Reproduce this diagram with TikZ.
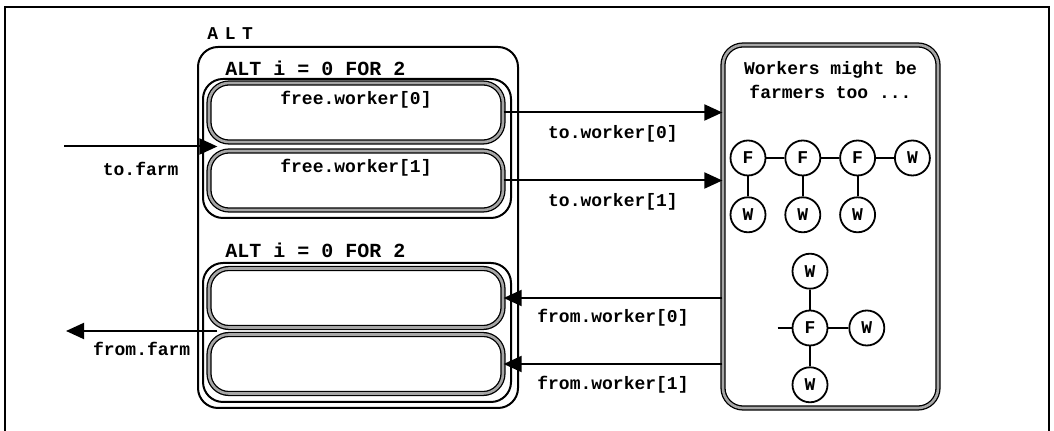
\documentclass[tikz,border=0pt]{standalone}
\usepackage{fontspec}
\setmonofont{Liberation Mono}
\usepackage{tikz}
\usetikzlibrary{positioning, arrows.meta, calc}

\tikzset{
  code/.style={font=\ttfamily\bfseries\fontsize{9}{11}\selectfont, inner sep=0pt},
  codebig/.style={font=\ttfamily\bfseries\fontsize{10}{12}\selectfont, inner sep=0pt},
  altbox/.style={draw, line width=1pt, rounded corners=10pt},
  chanbox/.style={draw, line width=0.65pt, double=gray!70, double distance=1.3pt,
    rounded corners=10pt},
  proc/.style={circle, draw, line width=0.9pt, minimum size=17.5pt, inner sep=0pt,
    font=\ttfamily\bfseries\fontsize{9}{11}\selectfont},
  chan/.style={line width=1pt, -{Triangle[length=9pt, width=8pt]}},
  link/.style={line width=0.9pt},
}

\begin{document}
\begin{tikzpicture}[x=0.5pt, y=-0.5pt]
    \useasboundingbox (0,0) rectangle (1054,431);
    % frame
    \draw [line width=0.8pt] (5,431) -- (5,7) -- (1049,7) -- (1049,431);%

    % outer ALT
    \node [altbox, minimum width=160pt, minimum height=180.5pt] (ALT) at (358,227.5) {};%
    \node [code, anchor=west] (ALTlbl) at (207,34) {A\kern3.3pt L\kern3.3pt T};%

    % first replicated ALT
    \node [codebig, anchor=west] (repA) at (225,68) {ALT i = 0 FOR 2};%
    \node [altbox, minimum width=154pt, minimum height=69.5pt] (grpA) at (357,148.5) {};%
    \node [chanbox, minimum width=147pt, minimum height=29.5pt] (w0) at (356,112.5) {};%
    \node [chanbox, minimum width=147pt, minimum height=29.5pt] (w1) at (356,180.5) {};%
    \node [code] (w0lbl) at ([yshift=-8.5pt]w0.north) {free.worker[0]};%
    \node [code] (w1lbl) at ([yshift=-8.5pt]w1.north) {free.worker[1]};%

    % second replicated ALT
    \node [codebig, anchor=west] (repB) at (225,250) {ALT i = 0 FOR 2};%
    \node [altbox, minimum width=154pt, minimum height=69.5pt] (grpB) at (357,332.5) {};%
    \node [chanbox, minimum width=147pt, minimum height=29.5pt] (w2) at (356,298) {};%
    \node [chanbox, minimum width=147pt, minimum height=29.5pt] (w3) at (356,364) {};%

    % workers
    \node [chanbox, minimum width=107.5pt, minimum height=181.5pt] (farmer) at (830.5,226.5) {};%
    \node [code, align=center] (note) at ([yshift=-18pt]farmer.north)
    {Workers might be\\[1pt]farmers too ...};%

    % chain of farmers
    \node [proc] (f1) at (748,158) {F};%
    \node [proc, right=9pt of f1] (f2) {F};%
    \node [proc, right=9pt of f2] (f3) {F};%
    \node [proc, right=9pt of f3] (f4) {W};%
    \node [proc, below=10pt of f1] (w1a) {W};%
    \node [proc, below=10pt of f2] (w2a) {W};%
    \node [proc, below=10pt of f3] (w3a) {W};%
    \draw [link] (f1) -- (f2) -- (f3) -- (f4);%
    \draw [link] (f1) -- (w1a); \draw [link] (f2) -- (w2a); \draw [link] (f3) -- (w3a);%

    % star
    \node [proc] (fc) at (810,328) {F};%
    \node [proc, above=10pt of fc] (wn) {W};%
    \node [proc, right=10pt of fc] (we) {W};%
    \node [proc, below=10pt of fc] (ws) {W};%
    \coordinate [left=7pt of fc.west] (fstub);%
    \draw [link] (fstub) -- (fc); \draw [link] (fc) -- (wn); \draw [link] (fc) -- (we);
    \draw [link] (fc) -- (ws);%

    % arrows
    \coordinate (gapA) at ($(w0.south west)!.5!(w1.north west) + (4.5pt,0)$);%
    \coordinate (gapB) at ($(w2.south west)!.5!(w3.north west) + (4.5pt,0)$);%
    \draw [chan] (64,0 |- gapA) -- node [code, midway, yshift=-11pt] (tofarm) {to.farm} (gapA);%
    \draw [chan] (gapB) -- node [code, midway, yshift=-9pt] (fromfarm) {from.farm} (66,0 |- gapB);%
    \draw [chan] (w0.east) -- node [code, midway, yshift=-10.75pt] (tow0) {to.worker[0]}
    (w0.east -| farmer.west);%
    \draw [chan] (w1.east) -- node [code, midway, yshift=-10.75pt] (tow1) {to.worker[1]}
    (w1.east -| farmer.west);%
    \draw [chan] (farmer.west |- w2.east) -- node [code, midway, yshift=-10pt] (fromw0)
    {from.worker[0]} (w2.east);%
    \draw [chan] (farmer.west |- w3.east) -- node [code, midway, yshift=-10.5pt] (fromw1)
    {from.worker[1]} (w3.east);%
\end{tikzpicture}
\end{document}
